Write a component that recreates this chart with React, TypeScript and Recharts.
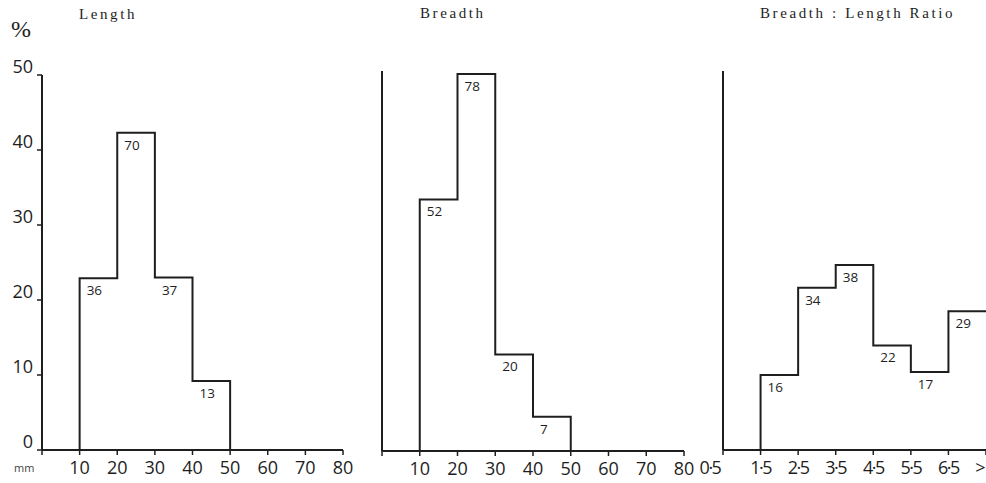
import React from 'react';
import { LineChart, Line, XAxis, YAxis, LabelList } from 'recharts';

// Length (mm) histogram: bin starts, % heights, counts written on the steps
const lengthStarts = [10, 20, 30, 40];
const lengthEnd = 50;
const lengthPct = [22.9, 42.3, 23.0, 9.2];
const lengthCounts = [36, 70, 37, 13];

// Breadth (mm)
const breadthStarts = [10, 20, 30, 40];
const breadthEnd = 50;
const breadthPct = [33.1, 49.6, 12.7, 4.5];
const breadthCounts = [52, 78, 20, 7];

// Breadth : Length ratio, last class is open ended
const ratioStarts = [1.5, 2.5, 3.5, 4.5, 5.5, 6.5];
const ratioEnd = 7.5;
const ratioPct = [9.9, 21.4, 24.4, 13.8, 10.3, 18.3];
const ratioCounts = [16, 34, 38, 22, 17, 29];

const mmTicks = [0, 10, 20, 30, 40, 50, 60, 70, 80];
const mmTickLabels = ['', '10', '20', '30', '40', '50', '60', '70', '80'];
const ratioTicks = [0.5, 1.5, 2.5, 3.5, 4.5, 5.5, 6.5, 7.5];
const ratioTickLabels = ['0·5', '1·5', '2·5', '3·5', '4·5', '5·5', '6·5', '>'];
const pctTicks = [0, 10, 20, 30, 40, 50];

const INK = '#1e1e1e';
const NUM_FONT = '"Open Sans", "DejaVu Sans", sans-serif';
const TITLE_FONT = '"Liberation Serif", "DejaVu Serif", serif';

// turn bins into an outline (step) path: up from zero, across each bin, down at the end
const buildSteps = (starts: number[], end: number, pct: number[], counts: number[], closed: boolean) => {
  const pts: { x: number; y: number; count?: number }[] = [{ x: starts[0], y: 0 }];
  starts.forEach((s, i) => pts.push({ x: s, y: pct[i], count: counts[i] }));
  pts.push({ x: end, y: closed ? 0 : pct[pct.length - 1] });
  return pts;
};

const CountLabel = (props: any) => {
  const { x, y, value } = props;
  if (value == null) return null;
  return (
    <text x={x + 7} y={y + 17} fontSize={13.5} fontFamily={NUM_FONT} fill={INK}>
      {value}
    </text>
  );
};

const makeXTick = (ticks: number[], labels: string[], firstShift = 0, lastAnchorEnd = false, spacing = 0) => (props: any) => {
  const { x, y, payload } = props;
  const i = ticks.indexOf(payload.value);
  const label = i >= 0 ? labels[i] : '';
  const isLast = lastAnchorEnd && i === ticks.length - 1;
  return (
    <text
      x={x + (i === 0 ? firstShift : 0) - (isLast ? 2 : 0)}
      y={y + 17}
      textAnchor={isLast ? 'end' : 'middle'}
      fontSize={18}
      fontFamily={NUM_FONT}
      letterSpacing={spacing}
      fill={INK}
    >
      {label}
    </text>
  );
};

const YLabelTick = (props: any) => {
  const { x, y, payload } = props;
  return (
    <text x={x - 2} y={y - 2} textAnchor="end" fontSize={18} fontFamily={NUM_FONT} fill={INK}>
      {payload.value}
    </text>
  );
};

const Panel = ({
  left, width, margin, data, domain, ticks, tick, showYLabels,
}: {
  left: number; width: number; margin: any; data: any[]; domain: number[]; ticks: number[]; tick: any; showYLabels: boolean;
}) => (
  <div style={{ position: 'absolute', left, top: 0 }}>
    <LineChart width={width} height={483} data={data} margin={margin}>
      <XAxis
        type="number"
        dataKey="x"
        domain={domain}
        ticks={ticks}
        interval={0}
        height={1}
        tickSize={5}
        axisLine={{ stroke: INK, strokeWidth: 2 }}
        tickLine={{ stroke: INK, strokeWidth: 1.5 }}
        tick={tick}
      />
      <YAxis
        type="number"
        domain={[0, 50]}
        ticks={pctTicks}
        interval={0}
        width={1}
        tickSize={5}
        axisLine={{ stroke: INK, strokeWidth: 2 }}
        tickLine={{ stroke: INK, strokeWidth: 1.5 }}
        tick={showYLabels ? YLabelTick : false}
      />
      <Line
        type="stepAfter"
        dataKey="y"
        stroke={INK}
        strokeWidth={2}
        dot={false}
        activeDot={false}
        isAnimationActive={false}
      >
        <LabelList dataKey="count" content={CountLabel} />
      </Line>
    </LineChart>
  </div>
);

const titleStyle = (left: number, top: number): React.CSSProperties => ({
  position: 'absolute', left, top, fontFamily: TITLE_FONT, fontSize: 15, letterSpacing: 2.6, color: INK, whiteSpace: 'nowrap',
});

export default function App() {
  const lengthData = buildSteps(lengthStarts, lengthEnd, lengthPct, lengthCounts, true);
  const breadthData = buildSteps(breadthStarts, breadthEnd, breadthPct, breadthCounts, true);
  const ratioData = buildSteps(ratioStarts, ratioEnd, ratioPct, ratioCounts, false);

  return (
    <div style={{ position: 'absolute', left: 0, top: 0, width: 986, height: 483, background: '#fff', overflow: 'hidden' }}>
      <div style={titleStyle(79, 6)}>Length</div>
      <div style={titleStyle(420, 5)}>Breadth</div>
      <div style={titleStyle(760, 5)}>Breadth : Length Ratio</div>
      <div style={{ position: 'absolute', left: 11, top: 16, fontFamily: TITLE_FONT, fontSize: 24, color: INK }}>%</div>
      <div style={{ position: 'absolute', left: 14, top: 460, fontFamily: NUM_FONT, fontSize: 11, color: '#444' }}>mm</div>

      <Panel
        left={0}
        width={372}
        margin={{ top: 75, right: 29, bottom: 32, left: 41 }}
        data={lengthData}
        domain={[0, 80]}
        ticks={mmTicks}
        tick={makeXTick(mmTicks, mmTickLabels)}
        showYLabels
      />
      <Panel
        left={350}
        width={356}
        margin={{ top: 71, right: 22, bottom: 31, left: 31 }}
        data={breadthData}
        domain={[0, 80]}
        ticks={mmTicks}
        tick={makeXTick(mmTicks, mmTickLabels)}
        showYLabels={false}
      />
      <Panel
        left={690}
        width={296}
        margin={{ top: 71, right: 0, bottom: 32, left: 32 }}
        data={ratioData}
        domain={[0.5, 7.5]}
        ticks={ratioTicks}
        tick={makeXTick(ratioTicks, ratioTickLabels, -13, true, -1.5)}
        showYLabels={false}
      />
    </div>
  );
}
